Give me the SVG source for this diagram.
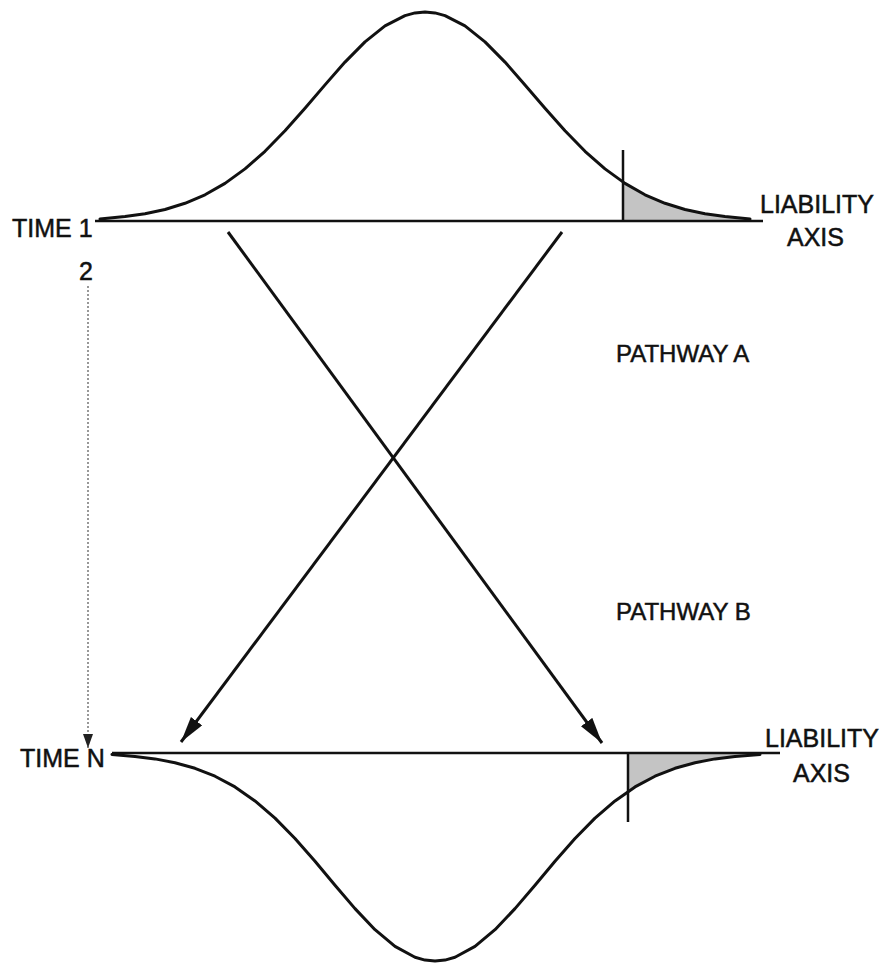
<svg xmlns="http://www.w3.org/2000/svg" width="880" height="965" viewBox="0 0 880 965">
<style>
.lbl{font-family:"Liberation Sans",Arial,sans-serif;font-size:25px;fill:#111;stroke:#111;stroke-width:0.5}
.ax{stroke:#111;stroke-width:2.5;fill:none}
.cv{stroke:#111;stroke-width:3;fill:none;stroke-linejoin:round;stroke-linecap:round}
.sh{fill:#c4c4c4;stroke:none}
.arr{stroke:#111;stroke-width:3;fill:none}
</style>
<defs>
<marker id="ah" markerUnits="userSpaceOnUse" markerWidth="28" markerHeight="16" refX="26" refY="7" orient="auto">
<path d="M0,0 L26,7 L0,14 Z" fill="#111"/>
</marker>
<marker id="ahs" markerUnits="userSpaceOnUse" markerWidth="16" markerHeight="12" refX="14" refY="5" orient="auto">
<path d="M0,0 L14,5 L0,10 Z" fill="#222"/>
</marker>
</defs>
<rect width="880" height="965" fill="#fff"/>
<g id="time1">
<polygon class="sh" points="623,221 623,183.4 625,183.4 645,194.8 665,203.3 685,209.5 705,213.75 725,216.6 745,218.4 745,221"/>
<line class="ax" x1="95" y1="221" x2="763" y2="221"/>
<polyline class="cv" points="100,219 125,216.6 145,213.75 165,209.5 185,203.3 205,194.8 225,183.4 245,168.9 265,151.3 285,130.8 305,108.3 325,84.9 345,62.1 365,41.9 385,25.9 405,15.6 415,12.9 425,12 435,12.9 445,15.6 465,25.9 485,41.9 505,62.1 525,84.9 545,108.3 565,130.8 585,151.3 605,168.9 625,183.4 645,194.8 665,203.3 685,209.5 705,213.75 725,216.6 750,219"/>
<line class="ax" x1="623" y1="150" x2="623" y2="221"/>
<text class="lbl" x="12" y="237">TIME 1</text>
<text class="lbl" x="760" y="213">LIABILITY</text>
<text class="lbl" x="787" y="246">AXIS</text>
</g>
<g id="timeN">
<polygon class="sh" points="628,753 628,791.5 635,786.9 655,776.2 675,768.3 695,762.7 715,758.9 735,756.5 755,755 755,753"/>
<line class="ax" x1="112" y1="753" x2="780" y2="753"/>
<polyline class="cv" points="112,754.5 135,756.5 155,758.9 175,762.7 195,768.3 215,776.2 235,786.9 255,800.9 275,818.1 295,838.5 315,861.2 335,885.2 355,908.6 375,929.7 395,946.4 415,957.3 425,960.1 435,961 445,960.1 455,957.3 475,946.4 495,929.7 515,908.6 535,885.2 555,861.2 575,838.5 595,818.1 615,800.9 635,786.9 655,776.2 675,768.3 695,762.7 715,758.9 735,756.5 760,754.5"/>
<line class="ax" x1="628" y1="753" x2="628" y2="822"/>
<text class="lbl" x="20" y="767">TIME N</text>
<text class="lbl" x="765" y="747">LIABILITY</text>
<text class="lbl" x="793" y="782">AXIS</text>
</g>
<g id="labels">
<text class="lbl" x="86" y="280" text-anchor="middle">2</text>
<text class="lbl" x="616" y="362" style="font-size:24px">PATHWAY A</text>
<text class="lbl" x="616" y="620" style="font-size:24px">PATHWAY B</text>
</g>
<g id="connectors">
<line class="arr" x1="228" y1="232" x2="602" y2="743" marker-end="url(#ah)"/>
<line class="arr" x1="562" y1="232" x2="181" y2="742" marker-end="url(#ah)"/>
<line x1="88" y1="286" x2="88" y2="748" stroke="#777" stroke-width="1.5" stroke-dasharray="2 2" marker-end="url(#ahs)"/>
</g>
</svg>
